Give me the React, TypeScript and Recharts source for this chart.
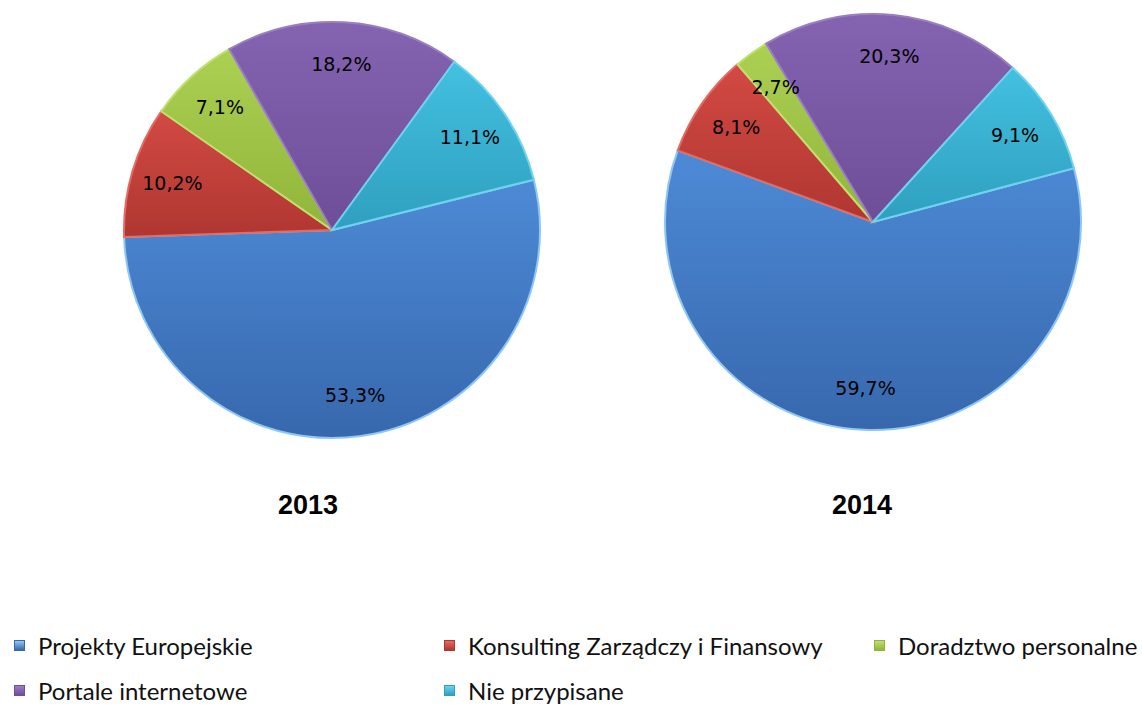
import React from 'react';
import { PieChart, Pie, Cell, Legend } from 'recharts';

const categories = [
  'Projekty Europejskie',
  'Konsulting Zarządczy i Finansowy',
  'Doradztwo personalne',
  'Portale internetowe',
  'Nie przypisane',
];
const values2013 = [53.3, 10.2, 7.1, 18.2, 11.1];
const values2014 = [59.7, 8.1, 2.7, 20.3, 9.1];
const years = ['2013', '2014'];

// legend is drawn in this order (Excel wraps it in three columns)
const legendOrder = [0, 1, 2, 3, 4];

const colors = [
  { top: '#4d8ad6', bottom: '#3768ad', edge: '#8fc6f5' },
  { top: '#d24a43', bottom: '#b03631', edge: '#e56a62' },
  { top: '#abd052', bottom: '#90b53a', edge: '#c2e070' },
  { top: '#8463b0', bottom: '#6e4e99', edge: '#9a7ec4' },
  { top: '#43c0e0', bottom: '#2f9fbf', edge: '#6fd3ee' },
];

const data2013 = categories.map((name, i) => ({ name, value: values2013[i] }));
const data2014 = categories.map((name, i) => ({ name, value: values2014[i] }));

const RADIAN = Math.PI / 180;
const fmt = (v: number) => v.toFixed(1).replace('.', ',') + '%';

const renderLabel = (props: any) => {
  const { cx, cy, midAngle, outerRadius, value } = props;
  const r = outerRadius * 0.8;
  const x = cx + r * Math.cos(-midAngle * RADIAN);
  const y = cy + r * Math.sin(-midAngle * RADIAN);
  return (
    <text
      x={x}
      y={y}
      textAnchor="middle"
      dominantBaseline="central"
      fontFamily="'DejaVu Sans', Verdana, sans-serif"
      fontSize={19}
      fill="#000"
    >
      {fmt(value)}
    </text>
  );
};

const LegendContent = () => (
  <div
    style={{
      display: 'grid',
      gridTemplateColumns: '430px 430px 282px',
      rowGap: 14,
      fontFamily: 'Lato, sans-serif',
      fontSize: 24,
      color: '#111',
    }}
  >
    {legendOrder.map((i) => (
      <div key={categories[i]} style={{ display: 'flex', alignItems: 'center', paddingLeft: 14, height: 31 }}>
        <span
          style={{
            display: 'inline-block',
            width: 9,
            height: 9,
            marginRight: 13,
            background: `linear-gradient(${colors[i].edge}, ${colors[i].bottom})`,
            border: `1px solid ${colors[i].bottom}`,
          }}
        />
        {categories[i]}
      </div>
    ))}
  </div>
);

const titleStyle = (left: number): React.CSSProperties => ({
  position: 'absolute',
  left: left - 60,
  width: 120,
  top: 490,
  textAlign: 'center',
  fontFamily: "'Liberation Sans', Arial, sans-serif",
  fontWeight: 'bold',
  fontSize: 27,
  color: '#000',
});

export default function App() {
  return (
    <div style={{ position: 'absolute', left: 0, top: 0, width: 1142, height: 708, background: '#fff' }}>
      <style>{`.recharts-pie-sector path { } .recharts-pie-sectors { filter: drop-shadow(0 3px 4px rgba(0,0,0,0.3)); }`}</style>
      <PieChart width={1142} height={708} margin={{ top: 0, right: 0, bottom: 0, left: 0 }}>
        <defs>
          {colors.map((c, i) => (
            <linearGradient key={i} id={`grad${i}`} x1="0" y1="0" x2="0" y2="1">
              <stop offset="0%" stopColor={c.top} />
              <stop offset="100%" stopColor={c.bottom} />
            </linearGradient>
          ))}
        </defs>
        <Pie
          data={data2013}
          dataKey="value"
          nameKey="name"
          cx={332}
          cy={230}
          outerRadius={208}
          startAngle={14}
          endAngle={-346}
          label={renderLabel}
          labelLine={false}
          isAnimationActive={false}
        >
          {data2013.map((d, i) => (
            <Cell key={d.name} fill={`url(#grad${i})`} stroke={colors[i].edge} strokeWidth={2} />
          ))}
        </Pie>
        <Pie
          data={data2014}
          dataKey="value"
          nameKey="name"
          cx={873}
          cy={222}
          outerRadius={208}
          startAngle={15}
          endAngle={-345}
          label={renderLabel}
          labelLine={false}
          isAnimationActive={false}
        >
          {data2014.map((d, i) => (
            <Cell key={d.name} fill={`url(#grad${i})`} stroke={colors[i].edge} strokeWidth={2} />
          ))}
        </Pie>
        <Legend
          content={<LegendContent />}
          wrapperStyle={{ position: 'absolute', left: 0, top: 630, width: 1142, height: 78 }}
        />
      </PieChart>
      <div style={titleStyle(308)}>{years[0]}</div>
      <div style={titleStyle(862)}>{years[1]}</div>
    </div>
  );
}
